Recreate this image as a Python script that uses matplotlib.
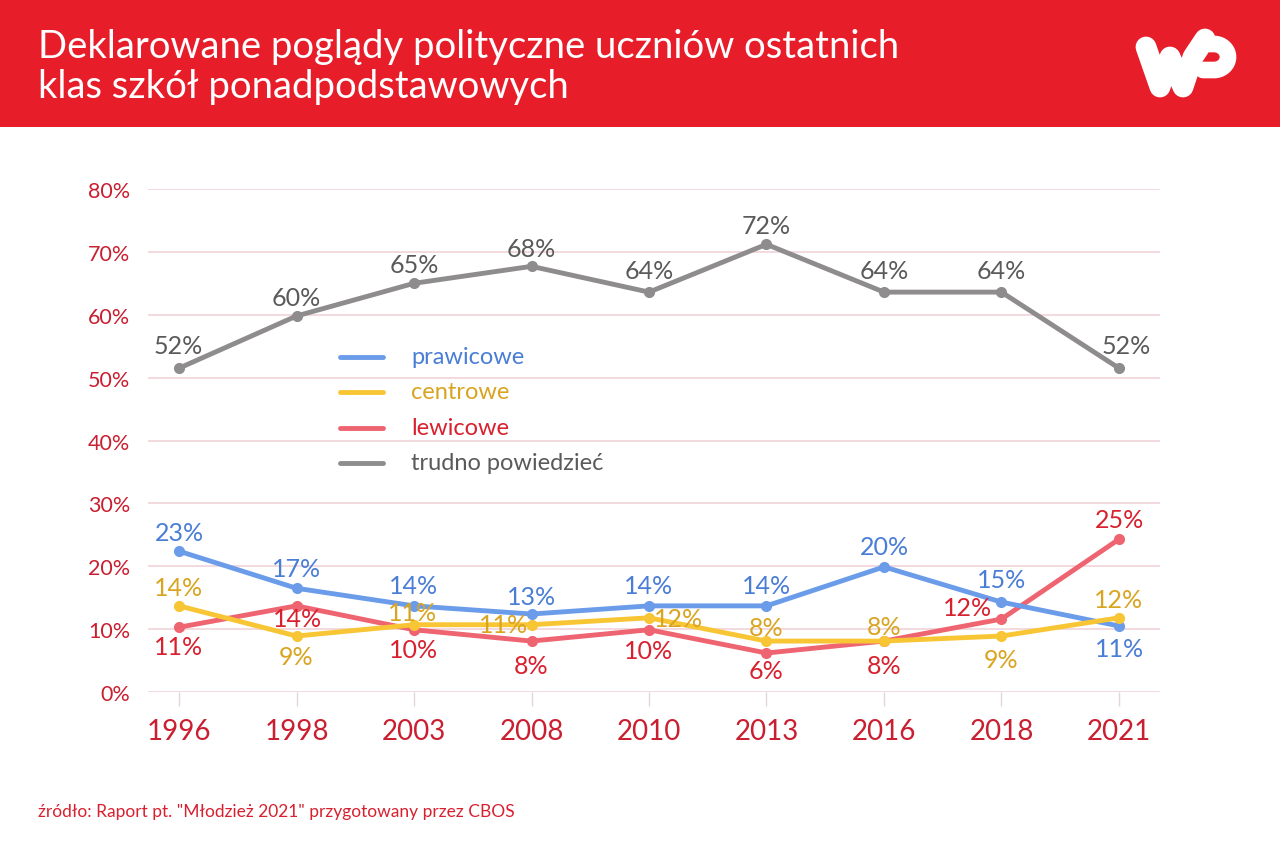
import matplotlib
matplotlib.use("Agg")
import matplotlib.pyplot as plt
from matplotlib.lines import Line2D
import numpy as np

plt.rcParams['font.family'] = ['Lato', 'DejaVu Sans']

years = ["1996", "1998", "2003", "2008", "2010", "2013", "2016", "2018", "2021"]
yticks = [0, 10, 20, 30, 40, 50, 60, 70, 80]
ytick_labels = ["0%", "10%", "20%", "30%", "40%", "50%", "60%", "70%", "80%"]

series_names = ["prawicowe", "centrowe", "lewicowe", "trudno powiedzieć"]
prawicowe = [22.4, 16.5, 13.7, 12.4, 13.7, 13.7, 19.9, 14.3, 10.5]
centrowe = [13.7, 8.9, 10.7, 10.7, 11.8, 8.1, 8.1, 8.9, 11.8]
lewicowe = [10.3, 13.7, 9.9, 8.1, 9.9, 6.2, 8.1, 11.6, 24.3]
trudno = [51.5, 59.8, 65.0, 67.7, 63.6, 71.2, 63.6, 63.6, 51.5]

prawicowe_labels = ["23%", "17%", "14%", "13%", "14%", "14%", "20%", "15%", "11%"]
centrowe_labels = ["14%", "9%", "11%", "11%", "12%", "8%", "8%", "9%", "12%"]
lewicowe_labels = ["11%", "14%", "10%", "8%", "10%", "6%", "8%", "12%", "25%"]
trudno_labels = ["52%", "60%", "65%", "68%", "64%", "72%", "64%", "64%", "52%"]

title = "Deklarowane poglądy polityczne uczniów ostatnich\nklas szkół ponadpodstawowych"
source = "źródło: Raport pt. \"Młodzież 2021\" przygotowany przez CBOS"

RED = "#E81D2A"
line_colors = ["#6B9CE9", "#F8C535", "#EE6470", "#8E8C8C"]
text_colors = ["#4A7DD6", "#D9A420", "#D8202F", "#5A5A5A"]
TICK_RED = "#C91F30"
GRID = "#F1D3D8"

# label offsets in pixels (dx, dy) for each point
off_p = [(0, 19), (0, 20), (0, 20), (0, 18), (0, 20), (0, 20), (0, 20), (0, 23), (1, -23)]
off_c = [(0, 18), (0, -20), (-1, 12), (-28, 0), (30, -1), (0, 14), (0, 15), (0, -23), (0, 18)]
off_l = [(0, -19), (1, -13), (0, -20), (0, -24), (0, -21), (0, -17), (0, -24), (-34, 12), (0, 20)]
off_t = [(-1, 23), (0, 19), (0, 19), (0, 18), (0, 22), (0, 19), (0, 22), (0, 22), (7, 23)]

W, H = 1280, 853
fig = plt.figure(figsize=(12.8, 8.53), dpi=100)
fig.patch.set_facecolor("white")

# header band
hdr = fig.add_axes([0, 1 - 128 / H, 1, 128 / H])
hdr.set_xlim(0, W)
hdr.set_ylim(0, 128)
hdr.axis("off")
hdr.add_patch(plt.Rectangle((0, 0), W, 128, color=RED, zorder=0))
hdr.text(38, 61, title, color="white", fontsize=27.5, va="center", ha="left",
         linespacing=1.12)
# WP logo drawn as strokes
hdr.plot([1146, 1160, 1170, 1183, 1193, 1205], [80, 40, 70, 40, 70, 88],
         color="white", lw=15, solid_capstyle="round", solid_joinstyle="round")
th = np.linspace(-np.pi / 2, np.pi / 2, 40)
px = 1214 + 14 * np.cos(th)
py = 70 + 13 * np.sin(th)
hdr.plot(np.r_[1203, px, 1210], np.r_[57, py, 83], color="white", lw=12,
         solid_capstyle="round", solid_joinstyle="round")

# main axes
x0, x1 = 148, 1160
yb, yt = 693, 190
ax = fig.add_axes([x0 / W, (H - yb) / H, (x1 - x0) / W, (yb - yt) / H])
xs = list(range(len(years)))
ax.set_xlim(-31 / 117.5, 8 + 41 / 117.5)
ax.set_ylim(0, 80)
for s in ax.spines.values():
    s.set_visible(False)
ax.set_yticks(yticks)
ax.set_yticklabels(ytick_labels, color=TICK_RED, fontsize=15.5)
ax.tick_params(axis="y", length=0, pad=13)
ax.set_xticks(xs)
ax.set_xticklabels(years, color=TICK_RED, fontsize=20)
ax.tick_params(axis="x", length=10, color="#E3D6D8", width=1, pad=9)
ax.yaxis.grid(True, color=GRID, lw=1.2)
ax.set_axisbelow(True)

all_vals = [prawicowe, centrowe, lewicowe, trudno]
all_labels = [prawicowe_labels, centrowe_labels, lewicowe_labels, trudno_labels]
all_offs = [off_p, off_c, off_l, off_t]
zorders = [4, 5, 3, 3]
for vals, labs, offs, lc, tc, z in zip(all_vals, all_labels, all_offs, line_colors, text_colors, zorders):
    ax.plot(xs, vals, color=lc, lw=3.5, marker="o", ms=7, zorder=z,
            solid_capstyle="round", solid_joinstyle="round")
    for x, v, lab, (dx, dy) in zip(xs, vals, labs, offs):
        ax.annotate(lab, (x, v), xytext=(dx * 0.72, dy * 0.72), textcoords="offset points",
                    ha="center", va="center", color=tc, fontsize=18, zorder=6)

# legend (manual)
leg_y = [358, 393, 429, 464]
for name, lc, tc, y in zip(series_names, line_colors, text_colors, leg_y):
    fig.add_artist(Line2D([340 / W, 383 / W], [(H - y) / H, (H - y) / H], color=lc, lw=3.5,
                          solid_capstyle="round", transform=fig.transFigure))
    fig.text(411 / W, (H - y) / H, name, color=tc, fontsize=17, va="center", ha="left")

fig.text(38 / W, (H - 812) / H, source, color="#D8202F", fontsize=12.5, va="center", ha="left")

fig.savefig("out.png", dpi=100, facecolor="white")
